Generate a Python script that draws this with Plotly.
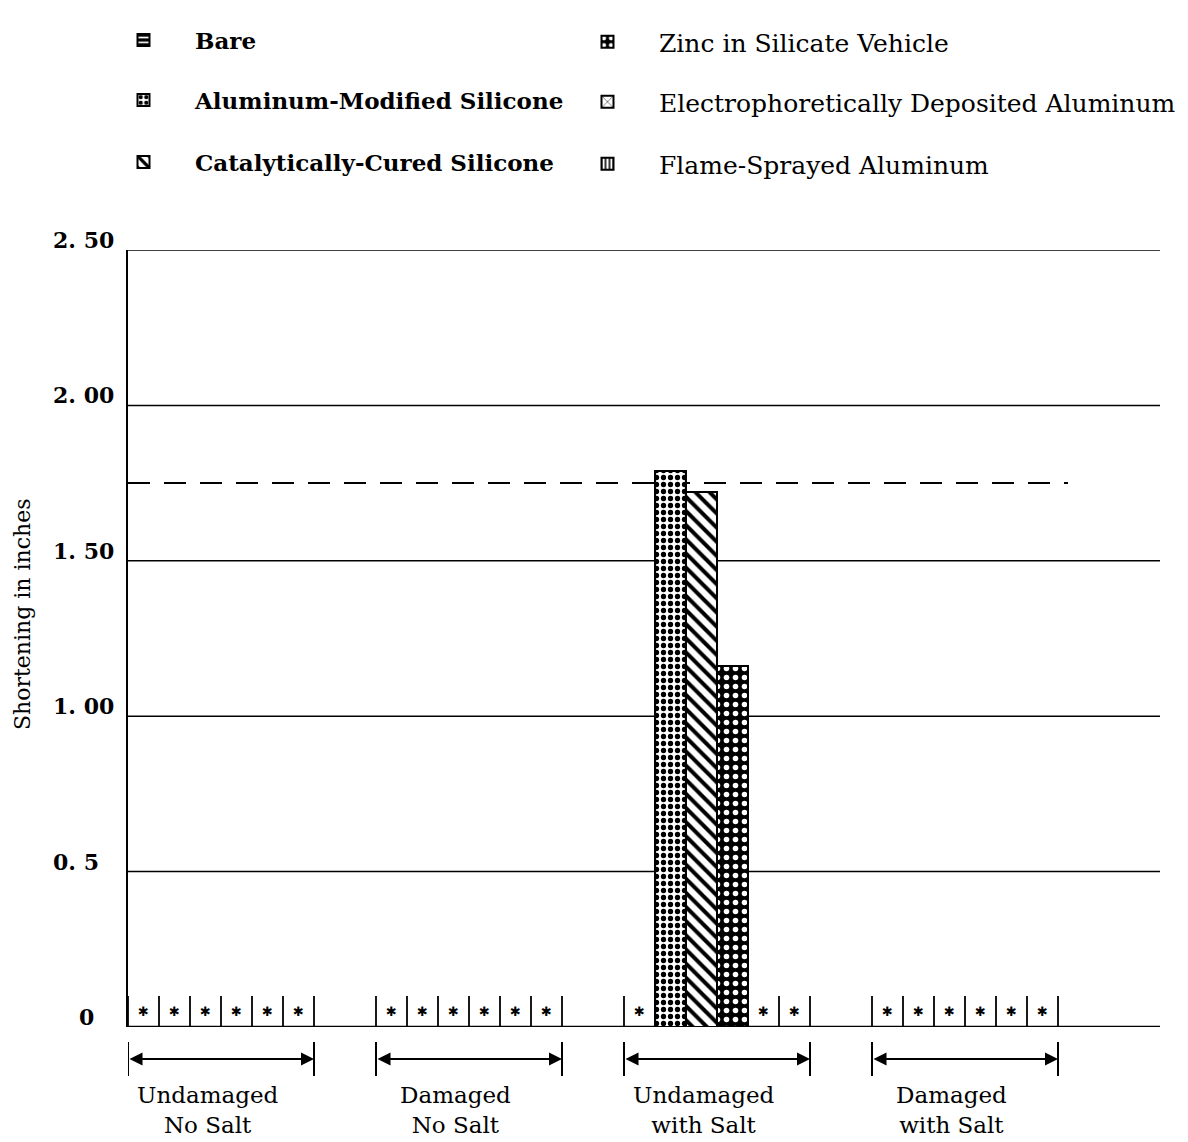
import plotly.graph_objects as go

# Test conditions (one block of six specimens each)
groups = ["Undamaged<br>No Salt", "Damaged<br>No Salt",
          "Undamaged<br>with Salt", "Damaged<br>with Salt"]

coatings = ["Bare", "Aluminum-Modified Silicone", "Catalytically-Cured Silicone",
            "Zinc in Silicate Vehicle", "Electrophoretically Deposited Aluminum",
            "Flame-Sprayed Aluminum"]

# Shortening in inches, one value per test condition
bare = [0, 0, 0, 0]
al_silicone = [0, 0, 1.79, 0]
cat_silicone = [0, 0, 1.72, 0]
zinc_silicate = [0, 0, 1.16, 0]
electro_al = [0, 0, 0, 0]
flame_al = [0, 0, 0, 0]

reference_level = 1.75

tick_vals = [0, 0.5, 1.0, 1.5, 2.0, 2.5]
tick_text = ["0", "0. 5", "1. 00", "1. 50", "2. 00", "2. 50"]

series = [bare, al_silicone, cat_silicone, zinc_silicate, electro_al, flame_al]

# ---- layout geometry -------------------------------------------------------
W, H = 1188, 1142
ML, MR, MT, MB = 128, 28, 250, 115
PW, PH = W - ML - MR, H - MT - MB
SLOT_PX = 31                      # one specimen slot
STRIDE = 8                        # slots from one group start to the next
N = len(coatings)
X_MAX = PW / SLOT_PX


def px_x(p):
    return (p - ML) / PW


def px_y(p):
    return (H - MB - p) / PH


SERIF = "DejaVu Serif"
BLACK = "black"

styles = [
    dict(shape="-", fgcolor="white", bgcolor=BLACK, size=6, solidity=0.35),
    dict(shape=".", fgcolor=BLACK, bgcolor="white", size=7, solidity=0.45),
    dict(shape="\\", fgcolor=BLACK, bgcolor="white", size=10, solidity=0.4),
    dict(shape=".", fgcolor="white", bgcolor=BLACK, size=9, solidity=0.3),
    dict(shape="x", fgcolor=BLACK, bgcolor="white", size=14, solidity=0.12),
    dict(shape="|", fgcolor=BLACK, bgcolor="white", size=5, solidity=0.4),
]

# legend placement: two columns of three rows, one legend box per entry
legend_cols_px = [92, 556]
legend_rows_px = [40, 100, 162]

fig = go.Figure()
legend_layout = {}

star_x = []
for i, (name, vals) in enumerate(zip(coatings, series)):
    xs = [g * STRIDE + i + 0.5 for g in range(len(groups))]
    star_x += [x for x, v in zip(xs, vals) if v == 0]
    col, row = divmod(i, 3)
    leg = "legend" if i == 0 else f"legend{i + 1}"
    label = f"<b>{name}</b>" if col == 0 else name
    legend_layout[leg] = dict(
        x=px_x(legend_cols_px[col]), y=px_y(legend_rows_px[row] + 2 * col),
        xanchor="left", yanchor="middle", orientation="h", itemwidth=93,
        bgcolor="rgba(0,0,0,0)",
        font=dict(family=SERIF, size=23 if col == 0 else 25, color=BLACK),
    )
    fig.add_trace(go.Bar(
        x=xs, y=vals, width=1, name=label, legend=leg,
        marker=dict(color=styles[i]["bgcolor"],
                    line=dict(color=BLACK, width=2),
                    pattern=dict(fillmode="replace", **styles[i])),
        hoverinfo="skip",
    ))

# asterisks mark specimens without measurable shortening
fig.add_trace(go.Scatter(
    x=star_x, y=[0.045] * len(star_x), mode="text",
    text=["\u2731"] * len(star_x),
    textfont=dict(family="DejaVu Sans", size=13, color=BLACK),
    textposition="middle center", showlegend=False, hoverinfo="skip",
))

shapes = []
# horizontal rules
for v in tick_vals:
    shapes.append(dict(type="line", xref="paper", yref="y", x0=0, x1=1, y0=v, y1=v,
                       line=dict(color=BLACK, width=2.5 if v == 0 else 1.5), layer="below"))
# reference level
shapes.append(dict(type="line", xref="paper", yref="y", x0=0, x1=px_x(1068),
                   y0=reference_level, y1=reference_level,
                   line=dict(color=BLACK, width=2, dash="22px,14px"), layer="below"))
# slot separators and group brackets
for g in range(len(groups)):
    start = g * STRIDE
    for k in range(N + 1):
        shapes.append(dict(type="line", xref="x", yref="y", x0=start + k, x1=start + k,
                           y0=0, y1=0.1, line=dict(color=BLACK, width=1.8)))
    for xe in (start, start + N):
        shapes.append(dict(type="line", xref="x", yref="paper", x0=xe, x1=xe,
                           y0=px_y(1042), y1=px_y(1076), line=dict(color=BLACK, width=2)))

annotations = []
for g, lab in enumerate(groups):
    start = g * STRIDE
    annotations.append(dict(
        x=start + N, y=px_y(1059), xref="x", yref="paper",
        ax=start, ay=0, axref="x", ayref="pixel", text="",
        showarrow=True, arrowside="end+start", arrowhead=2, arrowsize=1.3,
        arrowwidth=2, arrowcolor=BLACK, standoff=0, startstandoff=0,
    ))
    annotations.append(dict(
        x=start + N / 2 - 0.45, y=px_y(1110), xref="x", yref="paper",
        text=lab, showarrow=False, xanchor="center", yanchor="middle",
        font=dict(family=SERIF, size=23, color=BLACK),
    ))

# y tick labels
for v, t in zip(tick_vals, tick_text):
    whole = "." not in t
    annotations.append(dict(
        x=px_x(86) if whole else px_x(51), y=v, xref="paper", yref="y",
        text=f"<b>{t}</b>", showarrow=False,
        xanchor="center" if whole else "left", yanchor="middle", yshift=10,
        font=dict(family=SERIF, size=22, color=BLACK),
    ))

# y axis title
annotations.append(dict(
    x=px_x(22), y=px_y(614), xref="paper", yref="paper",
    text="Shortening in inches", textangle=-90, showarrow=False,
    xanchor="center", yanchor="middle",
    font=dict(family=SERIF, size=22, color=BLACK),
))

fig.update_layout(
    width=W, height=H,
    margin=dict(l=ML, r=MR, t=MT, b=MB, autoexpand=False),
    paper_bgcolor="white", plot_bgcolor="white",
    barmode="overlay", bargap=0,
    xaxis=dict(range=[0, X_MAX], visible=False, fixedrange=True),
    yaxis=dict(range=[0, 2.5], showgrid=False, zeroline=False, showticklabels=False,
               ticks="", showline=True, linecolor=BLACK, linewidth=2, fixedrange=True),
    shapes=shapes, annotations=annotations,
    showlegend=True,
    **legend_layout,
)

fig.write_html("out.html")
